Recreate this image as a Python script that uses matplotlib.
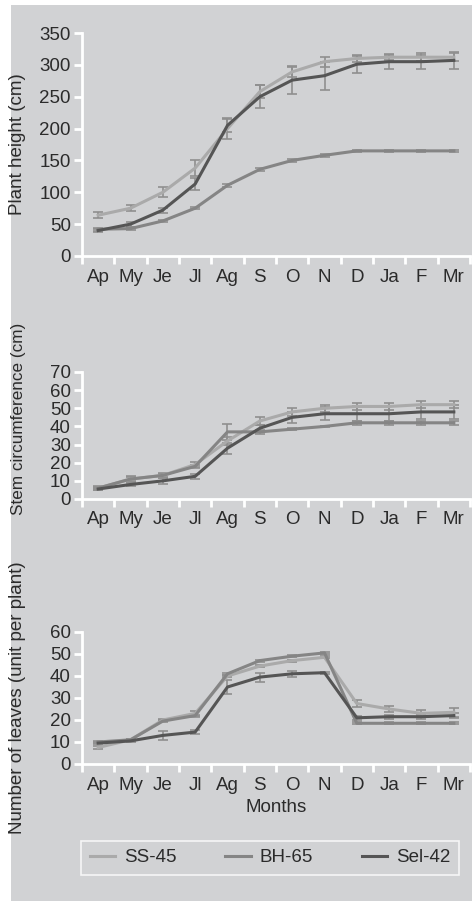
import matplotlib
matplotlib.use("Agg")
import matplotlib.pyplot as plt
from matplotlib.ticker import FixedLocator
import numpy as np

months = ["Ap", "My", "Je", "Jl", "Ag", "S", "O", "N", "D", "Ja", "F", "Mr"]
series = ["SS-45", "BH-65", "Sel-42"]

height_ss = [64, 75, 100, 138, 200, 258, 289, 305, 310, 312, 312, 312]
height_bh = [42, 43, 55, 75, 111, 136, 150, 158, 165, 165, 165, 165]
height_sel = [40, 50, 72, 113, 205, 250, 276, 283, 301, 305, 305, 307]
height_ss_err = [5, 5, 8, 12, 16, 10, 8, 8, 5, 5, 6, 6]
height_bh_err = [2, 2, 2, 2, 2, 2, 2, 2, 1, 1, 1, 1]
height_sel_err = [3, 4, 4, 9, 10, 18, 22, 22, 13, 11, 11, 13]

stem_ss = [6, 11, 13, 19, 32, 43, 48, 50, 51, 51, 52, 52]
stem_bh = [6, 11, 13, 18, 37, 37, 38.5, 40, 42, 42, 42, 42]
stem_sel = [5.5, 8, 10, 12.5, 28, 39, 45, 47, 47, 47, 48, 48]
stem_ss_err = [1, 1.5, 1.5, 1.5, 2, 2, 2, 2, 2, 2, 2, 2]
stem_bh_err = [0.5, 1, 1, 1, 4.5, 1, 0.5, 0.5, 1, 1, 1, 1]
stem_sel_err = [0.5, 1, 1.5, 1.5, 3, 2, 3, 3.5, 4, 4, 4, 4]

leaves_ss = [7.5, 11, 20, 23, 40, 44.5, 47, 48.5, 27.5, 25, 23, 23.5]
leaves_bh = [10, 11, 19.5, 22, 41, 47, 49, 50.5, 18.5, 18.5, 18.5, 18.5]
leaves_sel = [9.5, 10.5, 13, 14.5, 35, 39.5, 41, 41.5, 21, 21.5, 21.5, 22]
leaves_ss_err = [0.5, 0.5, 0.5, 1, 0.5, 0.5, 0.5, 0.5, 1.5, 1.5, 1.5, 2]
leaves_bh_err = [0.5, 0.5, 0.5, 0.5, 0.5, 0.5, 0.5, 0.5, 0.5, 0.5, 0.5, 0.5]
leaves_sel_err = [0.5, 0.5, 2, 1, 3, 2, 1.5, 0.5, 1, 1, 1, 1]

colors = ["#aaaaaa", "#858585", "#555555"]
err_color = "#8f8f8f"
bg = "#d1d2d4"
txt = "#2b2b2b"

plt.rcParams['font.family'] = ['Liberation Sans', 'DejaVu Sans']
plt.rcParams['font.size'] = 13.5
plt.rcParams['text.color'] = txt

fig = plt.figure(figsize=(4.72, 9.01), dpi=100, facecolor="white")
fig.patches.append(plt.Rectangle((11/472, 0), 1 - 11/472, 1 - 5/901,
                                 transform=fig.transFigure, facecolor=bg,
                                 edgecolor="none", zorder=-10))

left = 82/472
width = (470 - 82)/472
panels = [
    (256, 33, (0, 350), [0, 50, 100, 150, 200, 250, 300, 350], "Plant height (cm)",
     [height_ss, height_bh, height_sel], [height_ss_err, height_bh_err, height_sel_err], 0.5, 13.5),
    (499, 372, (0, 70), [0, 10, 20, 30, 40, 50, 60, 70], "Stem circumference (cm)",
     [stem_ss, stem_bh, stem_sel], [stem_ss_err, stem_bh_err, stem_sel_err], 0.63, 12.3),
    (764, 632, (0, 60), [0, 10, 20, 30, 40, 50, 60], "Number of leaves (unit per plant)",
     [leaves_ss, leaves_bh, leaves_sel], [leaves_ss_err, leaves_bh_err, leaves_sel_err], 0.5, 13.5),
]

x = np.arange(len(months))
axes = []
for (ybot, ytop, ylim, yticks, ylabel, data, errs, lab_y, lab_fs) in panels:
    ax = fig.add_axes([left, 1 - ybot/901, width, (ybot - ytop)/901])
    ax.set_facecolor("none")
    for vals, err in zip(data, errs):
        ax.errorbar(x, vals, yerr=err, fmt="none", ecolor=err_color,
                    elinewidth=1.2, capsize=3.5, capthick=1.2, zorder=2)
    for i, vals in enumerate(data):
        ax.plot(x, vals, color=colors[i], lw=2.2, zorder=3 + i, label=series[i])
    ax.set_xlim(-0.5, 11.5)
    ax.set_ylim(*ylim)
    ax.set_yticks(yticks)
    ax.xaxis.set_major_locator(FixedLocator(np.arange(-0.5, 12, 1)))
    ax.xaxis.set_minor_locator(FixedLocator(x))
    ax.set_xticklabels([])
    ax.set_xticklabels(months, minor=True)
    ax.tick_params(axis="x", which="major", direction="out", length=6, width=2,
                   color="white")
    ax.tick_params(axis="x", which="minor", length=0, pad=9, labelsize=13.5,
                   labelcolor=txt)
    ax.tick_params(axis="y", direction="out", length=6, width=2, color="white",
                   pad=2, labelsize=13.5, labelcolor=txt)
    for s in ["top", "right"]:
        ax.spines[s].set_visible(False)
    for s in ["left", "bottom"]:
        ax.spines[s].set_color("white")
        ax.spines[s].set_linewidth(2)
    ax.set_ylabel(ylabel, fontsize=lab_fs, color=txt)
    ax.yaxis.set_label_coords(-0.145, lab_y)
    axes.append(ax)

axes[-1].set_xlabel("Months", fontsize=13.5, color=txt, labelpad=4)

handles, labels = axes[0].get_legend_handles_labels()
leg = fig.legend(handles, labels, ncol=3,
                 bbox_to_anchor=(270/472, 1 - 857.5/901),
                 loc="center", frameon=True, fancybox=False,
                 handlelength=1.35, handletextpad=0.48, columnspacing=2.6,
                 fontsize=13.5, borderpad=0.45, borderaxespad=0)
leg.get_frame().set_edgecolor("white")
leg.get_frame().set_facecolor("none")
leg.get_frame().set_linewidth(1.2)
for t in leg.get_texts():
    t.set_color(txt)

fig.savefig("out.png", dpi=100, facecolor="white")
